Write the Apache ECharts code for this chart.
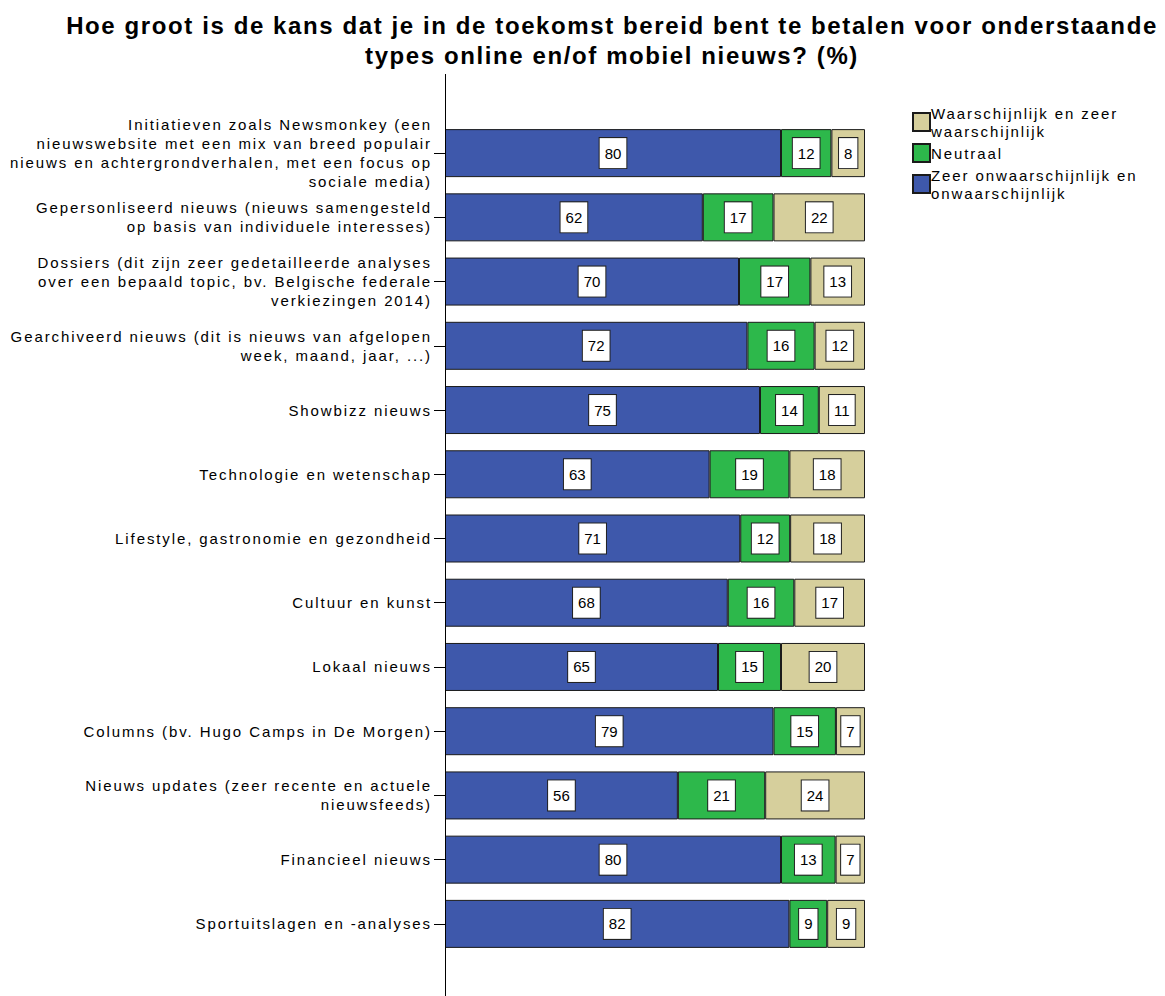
<!DOCTYPE html>
<html>
<head>
<meta charset="utf-8">
<script src="https://cdn.jsdelivr.net/npm/echarts@6/dist/echarts.min.js"></script>
<style>
  html, body { margin: 0; padding: 0; background: #fff; }
  #chart { width: 1165px; height: 996px; }
  /* wide tracking for axis and legend text, slightly tighter for the bold title */
  #chart text[style*="Liberation"][style*="15px"] { letter-spacing: 1.9px; }
  #chart text[style*="bold"] { letter-spacing: 1.6px; }
</style>
</head>
<body>
<div id="chart"></div>
<script>
// Categories (top to bottom)
const categories = [
  'Initiatieven zoals Newsmonkey (een\nnieuwswebsite met een mix van breed populair\nnieuws en achtergrondverhalen, met een focus op\nsociale media)',
  'Gepersonliseerd nieuws (nieuws samengesteld\nop basis van individuele interesses)',
  'Dossiers (dit zijn zeer gedetailleerde analyses\nover een bepaald topic, bv. Belgische federale\nverkiezingen 2014)',
  'Gearchiveerd nieuws (dit is nieuws van afgelopen\nweek, maand, jaar, ...)',
  'Showbizz nieuws',
  'Technologie en wetenschap',
  'Lifestyle, gastronomie en gezondheid',
  'Cultuur en kunst',
  'Lokaal nieuws',
  'Columns (bv. Hugo Camps in De Morgen)',
  'Nieuws updates (zeer recente en actuele\nnieuwsfeeds)',
  'Financieel nieuws',
  'Sportuitslagen en -analyses'
];

// Percentages per answer group
const onwaarschijnlijk = [80, 62, 70, 72, 75, 63, 71, 68, 65, 79, 56, 80, 82];
const neutraal         = [12, 17, 17, 16, 14, 19, 12, 16, 15, 15, 21, 13, 9];
const waarschijnlijk   = [8, 22, 13, 12, 11, 18, 18, 17, 20, 7, 24, 7, 9];

const seriesNames = [
  'Zeer onwaarschijnlijk en\nonwaarschijnlijk',
  'Neutraal',
  'Waarschijnlijk en zeer\nwaarschijnlijk'
];
const colors = ['#3e58ab', '#2db84b', '#d6cf9c'];

// Each bar is scaled to its row total so every row fills 100%
const totals = categories.map((_, i) => onwaarschijnlijk[i] + neutraal[i] + waarschijnlijk[i]);
function rowShare(arr) {
  return arr.map((v, i) => ({ value: v / totals[i] * 100, raw: v }));
}

const FONT = 'Liberation Sans, Arial, sans-serif';
const VALUE_FONT = 'Arial, sans-serif';

function makeSeries(name, arr, color) {
  return {
    name: name,
    type: 'bar',
    stack: 'total',
    barWidth: 48,
    data: rowShare(arr),
    itemStyle: { color: color, borderColor: '#1a1a1a', borderWidth: 1 },
    label: {
      show: true,
      position: 'inside',
      formatter: p => String(p.data.raw),
      color: '#000',
      fontFamily: VALUE_FONT,
      fontSize: 15,
      lineHeight: 17,
      backgroundColor: '#fff',
      borderColor: '#222',
      borderWidth: 1,
      padding: [7, 5, 6, 5]
    },
    emphasis: { disabled: true }
  };
}

const chart = echarts.init(document.getElementById('chart'), null, { renderer: 'svg' });
chart.setOption({
  animation: false,
  backgroundColor: '#fff',
  title: {
    text: 'Hoe groot is de kans dat je in de toekomst bereid bent te betalen voor onderstaande\ntypes online en/of mobiel nieuws? (%)',
    left: 607,
    textAlign: 'center',
    top: 5,
    textStyle: {
      fontFamily: FONT,
      fontWeight: 'bold',
      fontSize: 24,
      lineHeight: 30,
      color: '#000'
    }
  },
  legend: {
    orient: 'vertical',
    left: 907,
    top: 99,
    icon: 'rect',
    itemWidth: 17,
    itemHeight: 18,
    itemGap: 3,
    data: [seriesNames[2], seriesNames[1], seriesNames[0]],
    textStyle: { fontFamily: FONT, fontSize: 15, lineHeight: 18, color: '#000', padding: [0, 0, 0, -4] }
  },
  grid: { left: 445, right: 300, top: 121, bottom: 40, containLabel: false },
  xAxis: {
    type: 'value',
    min: 0,
    max: 100,
    show: false
  },
  yAxis: {
    type: 'category',
    inverse: true,
    data: categories,
    axisLine: { show: false },
    axisTick: { show: true, alignWithLabel: true, length: 11, lineStyle: { color: '#000', width: 1 } },
    axisLabel: {
      margin: 13,
      fontFamily: FONT,
      fontSize: 15,
      lineHeight: 19,
      color: '#000',
      align: 'right'
    },
    splitLine: { show: false }
  },
  graphic: [{
    type: 'line',
    shape: { x1: 445.5, y1: 74, x2: 445.5, y2: 996 },
    style: { stroke: '#000', lineWidth: 1 },
    z: 10
  }],
  series: [
    makeSeries(seriesNames[0], onwaarschijnlijk, colors[0]),
    makeSeries(seriesNames[1], neutraal, colors[1]),
    makeSeries(seriesNames[2], waarschijnlijk, colors[2])
  ]
});
</script>
</body>
</html>
